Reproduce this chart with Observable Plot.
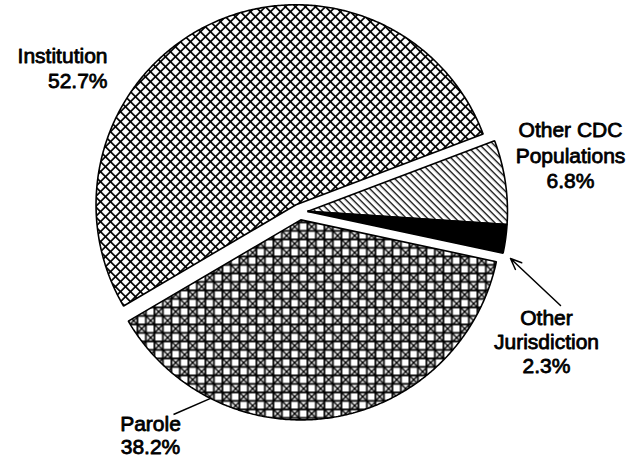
<!DOCTYPE html>
<html><head><meta charset="utf-8">
<script src="https://cdn.jsdelivr.net/npm/d3@7"></script>
<script src="https://cdn.jsdelivr.net/npm/@observablehq/plot@0.6"></script>
<style>
html,body{margin:0;padding:0;background:#fff;}
#chart svg{display:block;}
</style>
</head><body><div id="chart"></div>
<script>
// ---- Data ----
const categories = ["Other CDC Populations", "Other Jurisdiction", "Parole", "Institution"];
const labelNames = ["Other CDC\nPopulations", "Other\nJurisdiction", "Parole", "Institution"];
const shares = [6.8, 2.3, 38.2, 52.7];
const shareLabels = ["6.8%", "2.3%", "38.2%", "52.7%"];

// ---- Layout / style (not data) ----
const W = 644, H = 459;
const CX = 299, CY = 211.5, R = 200;         // pie centre and radius in pixels
const START = -20.7;                          // degrees, clockwise from east
const explodeGroup = [0, 0, 1, 2];            // CDC + Other Jurisdiction pulled out together
const explodeDist = 0.04;                     // fraction of radius
const fills = ["url(#pCdc)", "black", "url(#pPar)", "url(#pInst)"];
// label positions in radius units relative to the pie centre
const labelPos = [
  {x: 1.355, y: -0.4625, anchor: "middle", lh: 1.2},
  {x: 1.235, y: 0.4775, anchor: "middle", lh: 1.15},
  {x: -0.745, y: 1.0125, anchor: "middle", lh: 1.09},
  {x: -0.96, y: -0.8325, anchor: "end", lh: 1.18}
];
const paroleLeader = {angle: 116.8, end: {x: -0.63, y: 1.0125}};
const ojArrow = {from: {x: 1.305, y: 0.4675}, to: {x: 1.055, y: 0.2325}};

// ---- Geometry from data ----
const rad = d => d * Math.PI / 180;
const total = d3.sum(shares);
let acc = START;
const slices = shares.map((v, i) => {
  const a0 = acc, a1 = acc + v / total * 360;
  acc = a1;
  return {i, a0, a1};
});
const groupMid = {};
for (const s of slices) {
  const g = explodeGroup[s.i];
  if (!groupMid[g]) groupMid[g] = {a0: s.a0, a1: s.a1};
  groupMid[g].a0 = Math.min(groupMid[g].a0, s.a0);
  groupMid[g].a1 = Math.max(groupMid[g].a1, s.a1);
}
for (const s of slices) {
  const g = groupMid[explodeGroup[s.i]];
  const m = rad((g.a0 + g.a1) / 2);
  s.ox = explodeDist * Math.cos(m);
  s.oy = explodeDist * Math.sin(m);
  const pts = [{x: s.ox, y: s.oy}];
  const n = Math.max(4, Math.ceil((s.a1 - s.a0) * 2));
  for (let k = 0; k <= n; k++) {
    const a = rad(s.a0 + (s.a1 - s.a0) * k / n);
    pts.push({x: s.ox + Math.cos(a), y: s.oy + Math.sin(a)});
  }
  s.points = pts;
}
const labels = categories.map((c, i) => ({
  text: labelNames[i] + "\n" + shareLabels[i],
  x: labelPos[i].x, y: labelPos[i].y, anchor: labelPos[i].anchor, lh: labelPos[i].lh
}));
const ps = slices[2];
const leader = [{
  x1: ps.ox + Math.cos(rad(paroleLeader.angle)), y1: ps.oy + Math.sin(rad(paroleLeader.angle)),
  x2: paroleLeader.end.x, y2: paroleLeader.end.y
}];
const arrows = [{x1: ojArrow.from.x, y1: ojArrow.from.y, x2: ojArrow.to.x, y2: ojArrow.to.y}];

const textOpts = {fontFamily: "'Liberation Sans', Arial, Helvetica, sans-serif", fontSize: 21, lineAnchor: "top", fill: "black", stroke: "black", strokeWidth: 0.8};

const svg = Plot.plot({
  width: W, height: H, margin: 0,
  style: {background: "white", overflow: "visible"},
  x: {domain: [-CX / R, (W - CX) / R], range: [0, W], axis: null},
  y: {domain: [-CY / R, (H - CY) / R], range: [0, H], axis: null},
  marks: [
    ...slices.map(s => Plot.line(s.points, {x: "x", y: "y", curve: "linear-closed", fill: fills[s.i], stroke: "black", strokeWidth: 1.6, strokeLinejoin: "miter"})),
    Plot.link(leader, {x1: "x1", y1: "y1", x2: "x2", y2: "y2", stroke: "black", strokeWidth: 1.5}),
    Plot.arrow(arrows, {x1: "x1", y1: "y1", x2: "x2", y2: "y2", stroke: "black", strokeWidth: 1.5, headLength: 12, headAngle: 45}),
    ...labels.map(d => Plot.text([d], {x: "x", y: "y", text: "text", textAnchor: d.anchor, lineHeight: d.lh, ...textOpts}))
  ]
});

const defs = document.createElementNS("http://www.w3.org/2000/svg", "defs");
defs.innerHTML = `
<pattern id="pInst" patternUnits="userSpaceOnUse" width="7.07" height="7.07" patternTransform="rotate(45)">
  <rect width="7.07" height="7.07" fill="white"/>
  <rect x="0" y="0" width="7.07" height="1.7" fill="black"/>
  <rect x="0" y="0" width="1.7" height="7.07" fill="black"/>
</pattern>
<pattern id="pCdc" patternUnits="userSpaceOnUse" width="4.95" height="4.95" patternTransform="rotate(45)">
  <rect width="4.95" height="4.95" fill="white"/>
  <rect x="0" y="0" width="4.95" height="1.3" fill="black"/>
</pattern>
<pattern id="pPar" patternUnits="userSpaceOnUse" width="17" height="17">
  <rect width="17" height="17" fill="white"/>
  <path transform="translate(0.9,0.9)" d="M-1,-1L18,18 M-1,9.5L9.5,-1 M7.5,19L19,7.5" stroke="black" stroke-width="1.4" fill="none"/>
  <rect x="0" y="0" width="17" height="1.8" fill="black"/>
  <rect x="0" y="8.5" width="17" height="1.8" fill="black"/>
  <rect x="0" y="0" width="1.8" height="17" fill="black"/>
  <rect x="8.5" y="0" width="1.8" height="17" fill="black"/>
</pattern>`;
svg.insertBefore(defs, svg.firstChild);
document.getElementById("chart").appendChild(svg);
</script>
</body></html>
